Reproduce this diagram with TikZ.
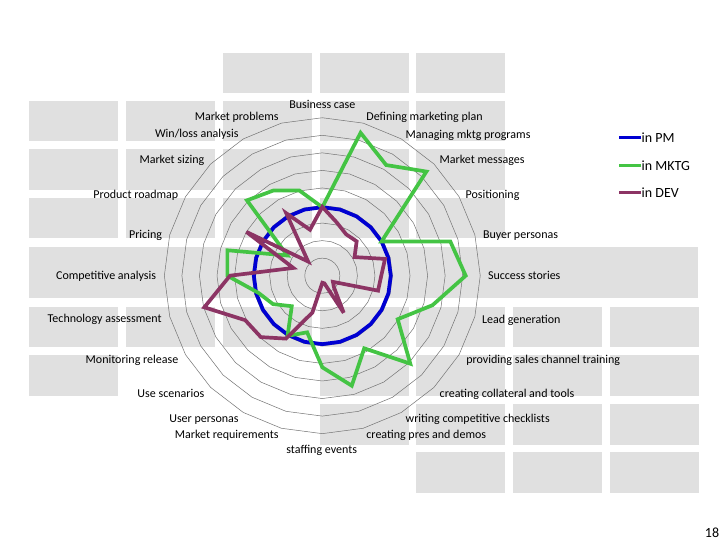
\documentclass[tikz,border=0pt]{standalone}
\usepackage{fontspec}
\setmainfont{Carlito}
\definecolor{pmblue}{RGB}{0,0,210}
\definecolor{mktggreen}{RGB}{68,196,68}
\definecolor{devpurple}{RGB}{140,52,100}
\definecolor{cellgray}{RGB}{224,224,224}
\def\ringgap{17.55}

\tikzstyle{cell} = [fill=cellgray]
\tikzstyle{ring} = [draw=black!55, line width=0.5pt]
\tikzstyle{series} = [line width=3.7pt, line join=miter, miter limit=4]
\tikzstyle{pm} = [series, draw=pmblue]
\tikzstyle{mktg} = [series, draw=mktggreen]
\tikzstyle{dev} = [series, draw=devpurple]
\tikzstyle{axislabel} = [font=\fontsize{12}{14}\selectfont, inner sep=0.5pt,
                      text height=1.5ex, text depth=.25ex, yshift=-2pt]
\tikzstyle{legendtext} = [font=\fontsize{14}{16}\selectfont, inner sep=0.5pt,
                      anchor=west]
\tikzstyle{legendline} = [line width=3pt]

\begin{document}
\begin{tikzpicture}[x=1pt, y=1pt]

  \fill[white] (0,0) rectangle (728,546);
  \useasboundingbox (0,0) rectangle (728,546);

  % gray cells behind the chart
  \foreach \top/\cols in {493.3/{3,4,5}, 445.3/{1,2,3,4,5}, 396.7/{1,2,3,4,5},
      348.3/{1,2,3,4,5}, 239.3/{1,2,3,4,5,6,7}, 191/{1,4,5,6,7},
      142/{4,5,6,7}, 93.7/{5,6,7}}
    \foreach \c in \cols
      \fill[cell] ({29.3+96.75*(\c-1)},\top) rectangle ++(89,-40.6);
  \fill[cell] (29.3,298.7) rectangle (698.3,247.7);

  \begin{scope}[shift={(322.3,270.3)}]
    \foreach \i in {1,...,9}
      \draw[ring] (90:\i*\ringgap) \foreach \k in {1,...,23} { -- (90-15*\k:\i*\ringgap) } -- cycle;

    \draw[pm] (90:3.9*\ringgap) \foreach \k in {1,...,23} { -- (90-15*\k:3.9*\ringgap) } -- cycle;

    \draw[mktg] (90:3.9*\ringgap) \foreach \v [count=\k] in {8.43,7.28,8.39,3.9,7.55,8.17,
        6.5,4.96,7.09,4.78,6.49,5.22,3.34,3.96,2.46,3.24,3.77,5.41,5.6,2.3,6.07,5.6,5.02}
      { -- (90-15*\k:\v*\ringgap) } -- cycle;

    \draw[dev] (90:3.92*\ringgap) \foreach \v [count=\k] in {3.15,2.72,2.77,2.12,3.7,3.36,
        3.29,0.7,0.94,2.44,0.45,0.4,2.17,4.14,4.95,5.07,6.96,5.26,1.71,4.99,1.14,4.11,2.71}
      { -- (90-15*\k:\v*\ringgap) } -- cycle;
  \end{scope}

  \node (businesscase) [axislabel] at (322.3,442) {Business case};
  \node (definingplan) [axislabel, anchor=west] at (365.7,430) {Defining marketing plan};
  \node (managingmktg) [axislabel, anchor=west] at (405,412.7) {Managing mktg programs};
  \node (marketmessages) [axislabel, anchor=west] at (439,387) {Market messages};
  \node (positioning) [axislabel, anchor=west] at (465,352.7) {Positioning};
  \node (buyerpersonas) [axislabel, anchor=west] at (482.3,312.7) {Buyer personas};
  \node (successstories) [axislabel, anchor=west] at (487.3,271) {Success stories};
  \node (leadgeneration) [axislabel, anchor=west] at (481.3,227.7) {Lead generation};
  \node (channeltraining) [axislabel, anchor=west] at (465.7,187.7) {providing sales channel training};
  \node (collateral) [axislabel, anchor=west] at (439,153.7) {creating collateral and tools};
  \node (checklists) [axislabel, anchor=west] at (405,128) {writing competitive checklists};
  \node (presdemos) [axislabel, anchor=west] at (365.7,112) {creating pres and demos};
  \node (staffing) [axislabel] at (321.7,97.7) {staffing events};

  \node (marketproblems) [axislabel, anchor=east] at (279.3,430) {Market problems};
  \node (winloss) [axislabel, anchor=east] at (239.3,413) {Win/loss analysis};
  \node (marketsizing) [axislabel, anchor=east] at (205,387) {Market sizing};
  \node (roadmap) [axislabel, anchor=east] at (179,352.7) {Product roadmap};
  \node (pricing) [axislabel, anchor=east] at (162.7,312.7) {Pricing};
  \node (competitive) [axislabel, anchor=east] at (156.7,271) {Competitive analysis};
  \node (techassess) [axislabel, anchor=east] at (162.3,228) {Technology assessment};
  \node (monitoring) [axislabel, anchor=east] at (179,187.7) {Monitoring release};
  \node (usescenarios) [axislabel, anchor=east] at (205,153.7) {Use scenarios};
  \node (userpersonas) [axislabel, anchor=east] at (239.3,128) {User personas};
  \node (requirements) [axislabel, anchor=east] at (279.3,112) {Market requirements};

  % legend
  \node (inpm) [legendtext] at (641,408.7) {in PM};
  \node (inmktg) [legendtext] at (641,380.7) {in MKTG};
  \node (indev) [legendtext] at (641,353.3) {in DEV};
  \coordinate (pmtick) at (619,408.7);
  \coordinate (mktgtick) at (619,380.7);
  \coordinate (devtick) at (619,353.3);
  \draw[legendline, pmblue] (pmtick) -- (inpm.west);
  \draw[legendline, mktggreen] (mktgtick) -- (inmktg.west);
  \draw[legendline, devpurple] (devtick) -- (indev.west);

  \node (pagenum) [font=\fontsize{14}{16}\selectfont] at (712,13) {18};

\end{tikzpicture}
\end{document}
